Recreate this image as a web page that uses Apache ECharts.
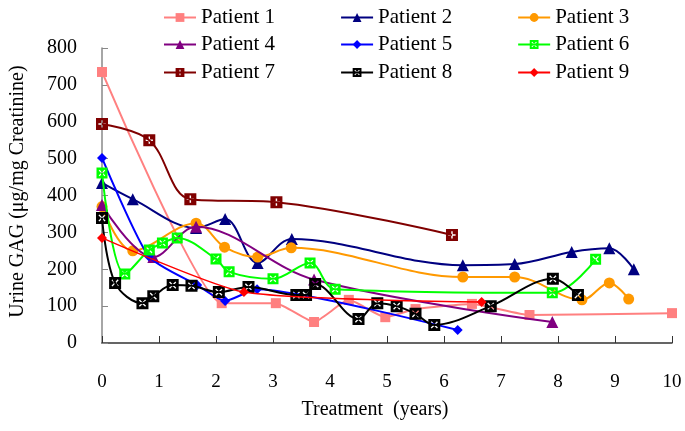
<!DOCTYPE html>
<html>
<head>
<meta charset="utf-8">
<script src="https://cdn.jsdelivr.net/npm/echarts@6/dist/echarts.min.js"></script>
<style>html,body{margin:0;padding:0;background:#fff}#c{width:685px;height:431px}</style>
</head>
<body>
<div id="c"></div>
<script>
// ---- data ----
const seriesNames = ['Patient 1','Patient 2','Patient 3','Patient 4','Patient 5','Patient 6','Patient 7','Patient 8','Patient 9'];
const p1x = [0, 2.1, 3.05, 3.72, 4.33, 4.97, 5.5, 6.49, 7.5, 10];
const p1y = [735, 108, 108, 57, 117, 70, 92, 106, 76, 81];
const p2x = [0, 0.54, 1.65, 2.16, 2.73, 3.33, 6.33, 7.24, 8.24, 8.9, 9.33];
const p2y = [434, 390, 312, 336, 217, 282, 211, 214, 247, 257, 200];
const p3x = [0, 0.54, 1.65, 2.15, 2.73, 3.32, 6.33, 7.24, 8.42, 8.9, 9.24];
const p3y = [370, 250, 325, 260, 233, 258, 179, 179, 117, 163, 119];
const p4x = [0, 0.9, 1.65, 3.72, 7.9];
const p4y = [374, 233, 315, 172, 57];
const p5x = [0, 0.82, 1.67, 2.16, 2.72, 6.24];
const p5y = [502, 235, 157, 114, 146, 35];
const p6x = [0, 0.4, 0.83, 1.06, 1.32, 2.0, 2.23, 3.0, 3.65, 4.09, 7.9, 8.66];
const p6y = [461, 187, 252, 271, 285, 228, 193, 174, 217, 146, 136, 227];
const p7x = [0, 0.83, 1.55, 3.06, 6.14];
const p7y = [594, 550, 390, 382, 293];
const p8x = [0, 0.23, 0.71, 0.9, 1.24, 1.57, 2.05, 2.57, 3.41, 3.58, 3.74, 4.5, 4.83, 5.17, 5.5, 5.83, 6.82, 7.91, 8.35];
const p8y = [339, 163, 108, 127, 157, 155, 138, 152, 130, 130, 160, 65, 108, 100, 79, 49, 100, 174, 130];
const p9x = [0, 2.49, 6.66];
const p9y = [285, 138, 111];
const xTicks = [0,1,2,3,4,5,6,7,8,9,10];
const yTicks = [0,100,200,300,400,500,600,700,800];

// ---- styling ----
const FONT = 'Liberation Serif';
const xs = [p1x,p2x,p3x,p4x,p5x,p6x,p7x,p8x,p9x];
const ys = [p1y,p2y,p3y,p4y,p5y,p6y,p7y,p8y,p9y];
const colors = ['#FF8080','#000080','#FF9900','#800080','#0000FF','#00FF00','#800000','#000000','#FF0000'];
// square with X-shaped hole / plus-shaped hole (opposite winding)
const SQ_X = 'path://M0 0L100 0L100 100L0 100Z M42 50L20 72L28 80L50 58L72 80L80 72L58 50L80 28L72 20L50 42L28 20L20 28Z';
const SQ_P = 'path://M0 0L100 0L100 100L0 100Z M44 44L20 44L20 56L44 56L44 80L56 80L56 56L80 56L80 44L56 44L56 20L44 20Z';
const symbols = ['rect','triangle','circle','triangle','diamond',SQ_X,SQ_P,SQ_X,'diamond'];
const sizes = [10,12,11,12,10,11,12,12,10];
const widths = [2,2,2,2,2,2,2,2,1.5];
const smooths = [0.15,0.35,0.35,0.35,0.2,0.35,0.35,0.35,0.2];

const series = seriesNames.map((n,i)=>({
  name:n, type:'line', smooth:smooths[i],
  data: xs[i].map((x,j)=>[x, ys[i][j]]),
  symbol: symbols[i], symbolSize: sizes[i], showAllSymbol:true,
  lineStyle:{color:colors[i], width:widths[i]},
  itemStyle:{color:colors[i], borderWidth:0},
  emphasis:{disabled:true}, animation:false, z: 2 + i
}));

function legendRow(names, top){
  return {
    data: names, top: top, left: 163, orient:'horizontal',
    itemWidth: 32, itemHeight: 11, itemGap: 65,
    textStyle:{fontFamily:FONT, fontSize:21, color:'#000'},
    selectedMode:false, padding:0
  };
}

const chart = echarts.init(document.getElementById('c'), null, {renderer:'canvas'});
chart.setOption({
  animation:false,
  backgroundColor:'#fff',
  legend:[
    legendRow(seriesNames.slice(0,3), 7),
    legendRow(seriesNames.slice(3,6), 34),
    legendRow(seriesNames.slice(6,9), 62)
  ],
  grid:{left:97, right:13, top:48, bottom:88, containLabel:false},
  xAxis:{
    type:'value', min:0, max:10, interval:1,
    name:'Treatment  (years)', nameLocation:'middle', nameGap:57,
    nameTextStyle:{fontFamily:FONT, fontSize:20, color:'#000', padding:[0,24,0,0]},
    axisLine:{show:true, lineStyle:{color:'#333', width:1.5}},
    axisTick:{show:true, inside:true, length:7, lineStyle:{color:'#333'}},
    axisLabel:{fontFamily:FONT, fontSize:19, color:'#000', margin:30,
      formatter: v => xTicks.includes(v) ? String(v) : ''},
    splitLine:{show:false}
  },
  yAxis:{
    type:'value', min:0, max:800, interval:100,
    name:'Urine GAG (μg/mg Creatinine)', nameLocation:'middle', nameGap:74,
    nameTextStyle:{fontFamily:FONT, fontSize:20, color:'#000', padding:[0,0,0,8]},
    axisLine:{show:true, lineStyle:{color:'#888', width:1.5}},
    axisTick:{show:true, inside:true, length:6, lineStyle:{color:'#888'}},
    axisLabel:{fontFamily:FONT, fontSize:20, color:'#000', margin:25,
      formatter: v => yTicks.includes(v) ? String(v) : ''},
    splitLine:{show:false}
  },
  series: series
});
</script>
</body>
</html>
